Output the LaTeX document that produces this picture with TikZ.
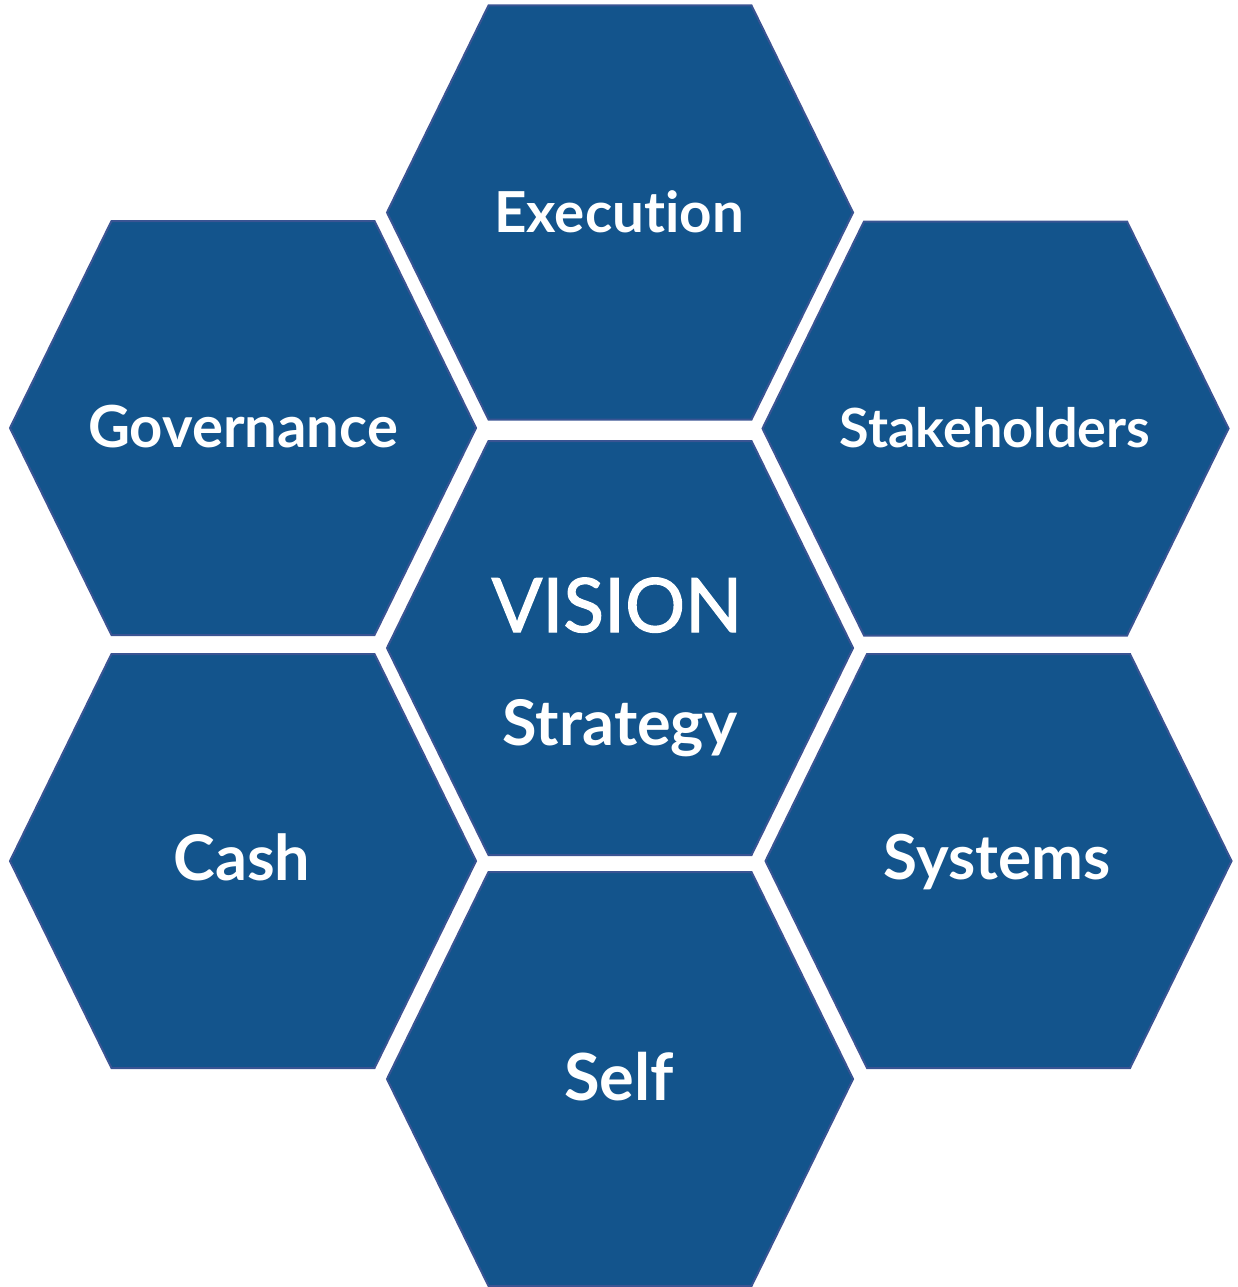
\documentclass[tikz,border=0pt]{standalone}
\usepackage{fontspec}
\newfontfamily\hexfont{Lato}[Ligatures=NoCommon]
\newfontfamily\visfont{Lato}[Ligatures=NoCommon,FakeBold=1.6]
\definecolor{hexfill}{HTML}{13548C}
\definecolor{hexline}{HTML}{3A5493}
\tikzset{
  hexshape/.style={fill=hexfill, draw=hexline, line width=2pt, line join=miter},
  hexlabel/.style={text=white, anchor=base, inner sep=0pt, font=\hexfont\bfseries},
}
\newcommand\hexcell[2]{%
  \path[hexshape] (#1,#2) ++(-233,0) -- ++(101.5,-207) -- ++(263,0) -- ++(101.5,207)
    -- ++(-101.5,207) -- ++(-263,0) -- cycle;}
\begin{document}
\begin{tikzpicture}[x=1pt,y=-1pt]
\useasboundingbox (0,0) rectangle (1237,1287);
\hexcell{620}{212.5}
\hexcell{243}{428}
\hexcell{995.5}{428.5}
\hexcell{620}{648}
\hexcell{243}{861}
\hexcell{998.5}{861}
\hexcell{620}{1079}
\node[hexlabel, font=\hexfont\bfseries\fontsize{56.5}{60}\selectfont] (exe) at (619,232) {Execution};
\node[hexlabel, font=\hexfont\bfseries\fontsize{58}{62}\selectfont] (gov) at (243,447) {Governance};
\node[hexlabel, font=\hexfont\bfseries\fontsize{54}{58}\selectfont] (stk) at (995,447) {Stakeholders};
\node[hexlabel, font=\visfont\fontsize{75}{80}\selectfont] (vis) at (617,632) {VISION};
\node[hexlabel, font=\hexfont\bfseries\fontsize{63}{67}\selectfont] (str) at (620,745) {Strategy};
\node[hexlabel, font=\hexfont\bfseries\fontsize{63}{67}\selectfont] (cash) at (242,880) {Cash};
\node[hexlabel, font=\hexfont\bfseries\fontsize{62}{66}\selectfont] (sys) at (997,879) {Systems};
\node[hexlabel, font=\hexfont\bfseries\fontsize{65}{69}\selectfont] (self) at (619,1100.5) {Self};
\end{tikzpicture}
\end{document}
